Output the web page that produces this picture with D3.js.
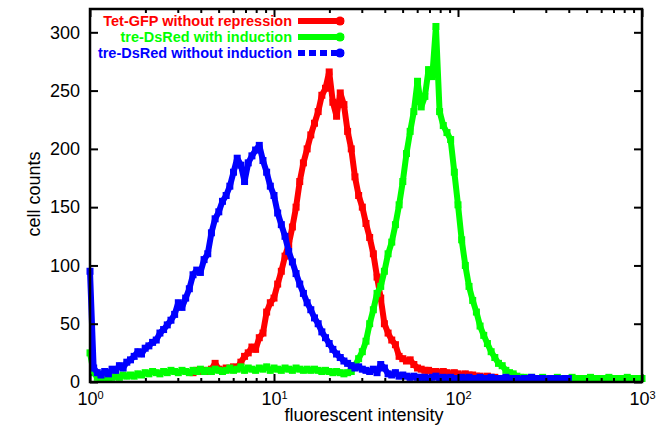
<!DOCTYPE html>
<html>
<head>
<meta charset="utf-8">
<script src="https://cdn.jsdelivr.net/npm/d3@7"></script>
<style>
  html, body { margin: 0; padding: 0; background: #fff; }
  svg { display: block; font-family: "Liberation Sans", Arial, Helvetica, sans-serif; }
</style>
</head>
<body>
<svg id="chart" width="664" height="431"></svg>
<script>
// Log-spaced histogram bin intensities
const bins = [
  1.000, 1.047, 1.096, 1.148, 1.202, 1.259, 1.318, 1.380, 1.445, 1.514,
  1.585, 1.660, 1.738, 1.820, 1.905, 1.995, 2.089, 2.188, 2.291, 2.399,
  2.512, 2.630, 2.754, 2.884, 3.020, 3.162, 3.311, 3.467, 3.631, 3.802,
  3.981, 4.169, 4.365, 4.571, 4.786, 5.012, 5.248, 5.495, 5.754, 6.026,
  6.310, 6.607, 6.918, 7.244, 7.586, 7.943, 8.318, 8.710, 9.120, 9.550,
  10.00, 10.47, 10.96, 11.48, 12.02, 12.59, 13.18, 13.80, 14.45, 15.14,
  15.85, 16.60, 17.38, 18.20, 19.05, 19.95, 20.89, 21.88, 22.91, 23.99,
  25.12, 26.30, 27.54, 28.84, 30.20, 31.62, 33.11, 34.67, 36.31, 38.02,
  39.81, 41.69, 43.65, 45.71, 47.86, 50.12, 52.48, 54.95, 57.54, 60.26,
  63.10, 66.07, 69.18, 72.44, 75.86, 79.43, 83.18, 87.10, 91.20, 95.50,
  100.0, 104.7, 109.6, 114.8, 120.2, 125.9, 131.8, 138.0, 144.5, 151.4,
  158.5, 166.0, 173.8, 182.0, 190.5, 199.5, 208.9, 218.8, 229.1, 239.9,
  251.2, 263.0, 275.4, 288.4, 302.0, 316.2, 331.1, 346.7, 363.1, 380.2,
  398.1, 416.9, 436.5, 457.1, 478.6, 501.2, 524.8, 549.5, 575.4, 602.6,
  631.0, 660.7, 691.8, 724.4, 758.6, 794.3, 831.8, 871.0, 912.0, 955.0,
  1000
];

const seriesNames = ["Tet-GFP without repression", "tre-DsRed with induction", "tre-DsRed without induction"];
const seriesColors = ["#ff0000", "#00ff00", "#0000ff"];

// Tet-GFP without repression (red), bins 28..112
const redStart = 28;
const redCounts = [
  8, 10, 9, 10, 9, 11, 16, 11, 10, 12,
  11, 13, 12, 17, 22, 25, 30, 28, 38, 42,
  60, 68, 72, 84, 95, 108, 118, 133, 150, 172,
  188, 200, 212, 222, 232, 246, 252, 266, 240, 228,
  248, 238, 215, 200, 176, 160, 150, 136, 124, 110,
  90, 72, 50, 42, 36, 32, 22, 20, 18, 19,
  15, 12, 11, 10, 10, 9, 9, 8, 9, 8,
  7, 8, 7, 6, 7, 6, 6, 5, 5, 4,
  5, 4, 4, 3, 3
];

// tre-DsRed with induction (green), bins 0..150
const greenStart = 0;
const greenCounts = [
  25, 8, 4, 3, 4, 3, 4, 5, 4, 6,
  5, 6, 5, 7, 6, 8, 7, 9, 8, 7,
  9, 8, 10, 9, 8, 10, 9, 8, 10, 9,
  11, 9, 10, 9, 11, 10, 9, 10, 12, 10,
  11, 13, 10, 12, 11, 10, 12, 11, 13, 10,
  12, 11, 10, 12, 11, 10, 12, 11, 10, 11,
  10, 11, 10, 9, 10, 9, 8, 9, 8, 7,
  8, 9, 14, 20, 26, 35, 50, 62, 76, 82,
  95, 110, 120, 135, 152, 172, 196, 215, 232, 258,
  236, 245, 268, 262, 305, 232, 220, 214, 208, 180,
  152, 122, 100, 82, 70, 60, 48, 40, 33, 26,
  21, 16, 14, 10, 8, 7, 5, 4, 4, 3,
  4, 3, 3, 4, 3, 3, 3, 4, 3, 3,
  3, 4, 3, 3, 3, 3, 4, 3, 3, 3,
  3, 4, 3, 3, 3, 3, 4, 3, 3, 3, 3
];

// tre-DsRed without induction (blue), bins 0..130
const blueStart = 0;
const blueCounts = [
  95, 12, 8, 6, 9, 7, 11, 10, 14, 12,
  17, 19, 22, 26, 24, 29, 31, 34, 36, 42,
  45, 49, 53, 58, 68, 64, 72, 80, 92, 96,
  94, 105, 110, 128, 140, 146, 155, 160, 168, 180,
  192, 186, 172, 188, 194, 199, 203, 190, 180, 168,
  160, 145, 135, 125, 112, 103, 93, 84, 76, 68,
  62, 55, 50, 43, 38, 33, 28, 24, 21, 18,
  16, 14, 12, 13, 11, 10, 9, 11, 8, 15,
  12, 7, 6, 8, 5, 6, 5, 4, 5, 4,
  4, 4, 3, 4, 5, 3, 4, 3, 4, 3,
  3, 4, 3, 4, 3, 3, 4, 3, 3, 4,
  3, 3, 3, 4, 3, 3, 3, 2, 3, 3,
  4, 3, 3, 3, 2, 3, 3, 3, 2, 3,
  3
];

const xTickValues = [1, 10, 100, 1000];
const xMinorTicks = [2,3,4,5,6,7,8,9, 20,30,40,50,60,70,80,90, 200,300,400,500,600,700,800,900];
const yTickValues = [0, 50, 100, 150, 200, 250, 300];

const svg = d3.select("#chart");
const L = 90, R = 642, T = 9, B = 382;

const x = d3.scaleLog().domain([1, 1000]).range([L, R]);
const y = d3.scaleLinear().domain([0, 320]).range([B, T]);

function toPoints(start, counts) {
  return counts.map((c, i) => ({ v: bins[start + i], c }));
}
const series = [
  toPoints(redStart, redCounts),
  toPoints(greenStart, greenCounts),
  toPoints(blueStart, blueCounts)
];

// clip
svg.append("defs").append("clipPath").attr("id", "clip")
  .append("rect").attr("x", L - 4).attr("y", T).attr("width", R - L + 8).attr("height", B - T + 1);

const line = d3.line().x(d => x(d.v)).y(d => y(d.c));
const plot = svg.append("g").attr("clip-path", "url(#clip)");

series.forEach((pts, si) => {
  const col = seriesColors[si];
  plot.append("path").datum(pts)
    .attr("d", line)
    .attr("fill", "none")
    .attr("stroke", col)
    .attr("stroke-width", 6)
    .attr("stroke-linejoin", "round");
  plot.append("g").selectAll("rect").data(pts).enter().append("rect")
    .attr("x", d => x(d.v) - 3.5).attr("y", d => y(d.c) - 3.5)
    .attr("width", 7).attr("height", 7)
    .attr("fill", col);
});

// axes
const fs = 18;
const axL = svg.append("g").attr("transform", `translate(${L},0)`)
  .call(d3.axisLeft(y).tickValues(yTickValues).tickSize(-8).tickSizeOuter(0).tickPadding(10));
axL.selectAll("text").attr("font-size", fs).attr("font-family", "Liberation Sans, Arial, sans-serif").attr("fill", "#000");

svg.append("g").attr("transform", `translate(${R},0)`)
  .call(d3.axisRight(y).tickValues(yTickValues).tickSize(-8).tickSizeOuter(0).tickFormat(""));

const axB = svg.append("g").attr("transform", `translate(0,${B})`)
  .call(d3.axisBottom(x).tickValues(xTickValues).tickSize(-8).tickSizeOuter(0).tickPadding(10).tickFormat(""));
axB.selectAll(".tick text").each(function(d) {
  const t = d3.select(this);
  t.attr("font-size", fs).attr("font-family", "Liberation Sans, Arial, sans-serif").attr("fill", "#000");
  t.text("10");
  t.append("tspan").attr("dy", "-0.55em").attr("font-size", 11).text(Math.round(Math.log10(d)));
});
svg.append("g").attr("transform", `translate(0,${B})`)
  .call(d3.axisBottom(x).tickValues(xMinorTicks).tickSize(-4).tickSizeOuter(0).tickFormat(""));

svg.append("g").attr("transform", `translate(0,${T})`)
  .call(d3.axisTop(x).tickValues(xTickValues).tickSize(-8).tickSizeOuter(0).tickFormat(""));
svg.append("g").attr("transform", `translate(0,${T})`)
  .call(d3.axisTop(x).tickValues(xMinorTicks).tickSize(-4).tickSizeOuter(0).tickFormat(""));

svg.selectAll(".domain").remove();
svg.selectAll(".tick line").attr("stroke", "#000").attr("stroke-width", 2);

svg.append("rect").attr("x", L).attr("y", T).attr("width", R - L).attr("height", B - T)
  .attr("fill", "none").attr("stroke", "#000").attr("stroke-width", 2.5);

// axis titles
svg.append("text").attr("x", 364).attr("y", 421).attr("text-anchor", "middle")
  .attr("font-size", fs).attr("fill", "#000").text("fluorescent intensity");
svg.append("text").attr("transform", "translate(40,194) rotate(-90)").attr("text-anchor", "middle")
  .attr("font-size", fs).attr("fill", "#000").text("cell counts");

// legend
const legY = [21, 37, 53];
const leg = svg.append("g");
seriesNames.forEach((name, i) => {
  leg.append("text").attr("x", 292).attr("y", legY[i] + 5).attr("text-anchor", "end")
    .attr("font-size", 14.5).attr("font-weight", "bold").attr("fill", seriesColors[i]).text(name);
  leg.append("line").attr("x1", 298).attr("x2", 344).attr("y1", legY[i]).attr("y2", legY[i])
    .attr("stroke", seriesColors[i]).attr("stroke-width", 6)
    .attr("stroke-dasharray", i === 2 ? "7,4" : null);
  leg.append("circle").attr("cx", 340).attr("cy", legY[i]).attr("r", 4.5).attr("fill", seriesColors[i]);
});
</script>
</body>
</html>
